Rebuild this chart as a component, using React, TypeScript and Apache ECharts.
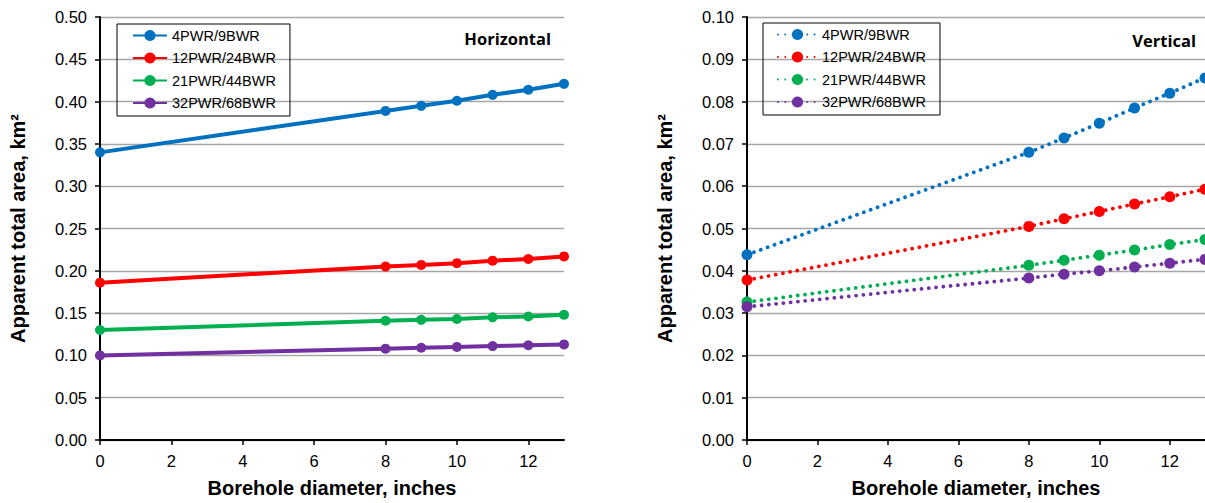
import React, { useEffect, useRef } from "react";
import * as echarts from "echarts";

const diameters = [0, 8, 9, 10, 11, 12, 13];
const seriesNames = ["4PWR/9BWR", "12PWR/24BWR", "21PWR/44BWR", "32PWR/68BWR"];
const colors = ["#0070C0", "#FF0000", "#00B050", "#7030A0"];

const horizontal = [
  [0.34, 0.389, 0.395, 0.401, 0.408, 0.414, 0.421],
  [0.186, 0.205, 0.207, 0.209, 0.212, 0.214, 0.217],
  [0.13, 0.141, 0.142, 0.143, 0.145, 0.146, 0.148],
  [0.1, 0.108, 0.109, 0.11, 0.111, 0.112, 0.113],
];

const vertical = [
  [0.0438, 0.068, 0.0714, 0.0749, 0.0785, 0.082, 0.0856],
  [0.0378, 0.0505, 0.0523, 0.054, 0.0558, 0.0575, 0.0593],
  [0.0326, 0.0413, 0.0425, 0.0437, 0.0449, 0.0462, 0.0474],
  [0.0315, 0.0383, 0.0392, 0.04, 0.0409, 0.0418, 0.0427],
];

const xAxisTitle = "Borehole diameter, inches";
const yAxisTitle = "Apparent total area, km²";
const panelTitles = ["Horizontal", "Vertical"];

const TICK_FONT = "'Liberation Sans', Arial, sans-serif";

export default function App() {
  const ref = useRef<HTMLDivElement>(null);
  useEffect(() => {
    if (!ref.current) return;
    const chart = echarts.init(ref.current, undefined, { renderer: "svg" });

    const makeX = (gridIndex: number) => ({
      type: "value",
      gridIndex,
      min: 0,
      max: 13,
      interval: 2,
      name: xAxisTitle,
      nameLocation: "middle",
      nameGap: 38,
      nameTextStyle: { fontFamily: TICK_FONT, fontWeight: "bold", fontSize: 20, color: "#000" },
      axisLine: { show: true, onZero: false, lineStyle: { color: "#000", width: 2 } },
      axisTick: { show: true, inside: false, length: 5, lineStyle: { color: "#000", width: 1.5 } },
      axisLabel: { fontFamily: TICK_FONT, fontSize: 16.5, color: "#000", margin: 12, showMaxLabel: false },
      splitLine: { show: false },
    });

    const makeY = (gridIndex: number, max: number, interval: number) => ({
      type: "value",
      gridIndex,
      min: 0,
      max,
      interval,
      name: yAxisTitle,
      nameLocation: "middle",
      nameGap: 72,
      nameTextStyle: { fontFamily: TICK_FONT, fontWeight: "bold", fontSize: 20, color: "#000" },
      axisLine: { show: true, lineStyle: { color: "#000", width: 2 } },
      axisTick: { show: true, inside: false, length: 5, lineStyle: { color: "#000", width: 1.5 } },
      axisLabel: {
        fontFamily: TICK_FONT,
        fontSize: 16.5,
        color: "#000",
        margin: 13,
        formatter: (v: number) => v.toFixed(2),
      },
      splitLine: { show: true, lineStyle: { color: "#A6A6A6", width: 1.3 } },
    });

    const series: any[] = [];
    horizontal.forEach((vals, i) => {
      series.push({
        type: "line",
        name: seriesNames[i],
        xAxisIndex: 0,
        yAxisIndex: 0,
        data: diameters.map((d, j) => [d, vals[j]]),
        symbol: "circle",
        symbolSize: 10,
        color: colors[i],
        lineStyle: { width: 4, color: colors[i] },
        itemStyle: { color: colors[i] },
      });
    });
    vertical.forEach((vals, i) => {
      series.push({
        type: "line",
        name: seriesNames[i] + " ",
        xAxisIndex: 1,
        yAxisIndex: 1,
        data: diameters.map((d, j) => [d, vals[j]]),
        symbol: "circle",
        symbolSize: 11,
        color: colors[i],
        lineStyle: { width: 3.8, color: colors[i], type: [0.01, 7.3], cap: "round" },
        itemStyle: { color: colors[i] },
      });
    });

    const legendText = { fontFamily: TICK_FONT, fontSize: 14.5, color: "#000" };

    chart.setOption({
      animation: false,
      backgroundColor: "#fff",
      grid: [
        { left: 100, top: 17, width: 464, height: 425 },
        { left: 747, top: 17, width: 460, height: 425 },
      ],
      xAxis: [makeX(0), makeX(1)],
      yAxis: [makeY(0, 0.5, 0.05), makeY(1, 0.1, 0.01)],
      legend: [
        {
          data: seriesNames,
          orient: "vertical",
          left: 117,
          top: 24,
          itemWidth: 34,
          itemHeight: 14,
          itemGap: 7.5,
          itemTextGap: 3,
          padding: [4, 14, 5.5, 15],
          borderColor: "#000",
          borderWidth: 1,
          textStyle: legendText,
          selectedMode: false,
        },
        {
          data: seriesNames.map((n) => n + " "),
          orient: "vertical",
          left: 763,
          top: 23,
          itemWidth: 39,
          itemHeight: 14,
          itemGap: 7.5,
          itemTextGap: 9,
          padding: [4, 10, 5.5, 14],
          borderColor: "#000",
          borderWidth: 1,
          textStyle: legendText,
          selectedMode: false,
        },
      ],
      graphic: [
        {
          type: "text",
          right: 1205 - 551,
          top: 30,
          style: {
            text: panelTitles[0],
            font: "bold 16.5px 'Open Sans', sans-serif",
            fill: "#000",
            textAlign: "right",
          },
        },
        {
          type: "text",
          right: 1205 - 1196,
          top: 32,
          style: {
            text: panelTitles[1],
            font: "bold 16.5px 'Open Sans', sans-serif",
            fill: "#000",
            textAlign: "right",
          },
        },
      ],
      series,
    });

    return () => chart.dispose();
  }, []);

  return (
    <div
      ref={ref}
      style={{ position: "absolute", left: 0, top: 0, width: 1205, height: 503 }}
    />
  );
}
